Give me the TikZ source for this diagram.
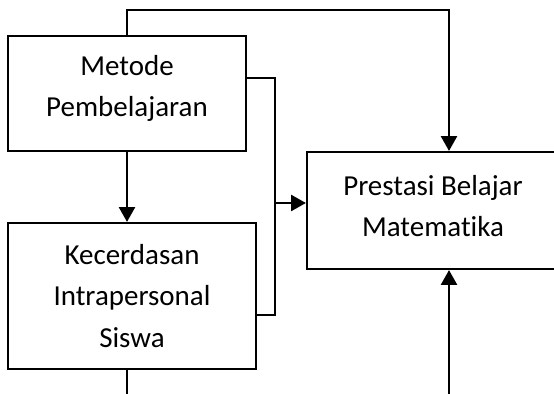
\documentclass[tikz,border=0pt]{standalone}
\usepackage{fontspec}
\setmainfont{Carlito}[Ligatures=NoCommon]
\usetikzlibrary{arrows.meta}

\tikzset{
  kotak/.style={draw, line width=1.5pt, align=center, inner sep=0pt,
    font=\fontsize{20.6}{29.2}\selectfont},
  garis/.style={line width=1.5pt}
}

\begin{document}
\begin{tikzpicture}[x=0.025cm,y=-0.025cm,>={Triangle[width=0.4cm,length=0.37cm]}]
\useasboundingbox (0,0) rectangle (554,394);

\node[kotak, minimum width=5.95cm, minimum height=2.875cm, text depth=11pt] (metode) at (127,93.5) {Metode\\Pembelajaran};
\node[kotak, minimum width=6.2cm, minimum height=3.65cm] (kecerdasan) at (132,296) {Kecerdasan\\Intrapersonal\\Siswa};
\node[kotak, minimum width=6.3cm, minimum height=2.925cm, text depth=7pt] (prestasi) at (433,210.5) {Prestasi Belajar\\Matematika};

\coordinate (atas) at (449,10);
\coordinate (sambung) at (275,203);
\coordinate (bawahkiri) at (127,400);
\coordinate (bawahkanan) at (449,400);

\draw[garis,->] (metode.north) |- (atas) -- (atas |- prestasi.north);
\draw[garis,->] (metode.south) -- (metode.south |- kecerdasan.north);
\draw[garis] (metode.east |- 0,78) -| (sambung) |- (kecerdasan.east |- 0,315);
\draw[garis,->] (sambung) -- (sambung -| prestasi.west);
\draw[garis] (bawahkiri |- kecerdasan.south) -- (bawahkiri);
\draw[garis,->] (bawahkanan) -- (bawahkanan |- prestasi.south);
\end{tikzpicture}
\end{document}
